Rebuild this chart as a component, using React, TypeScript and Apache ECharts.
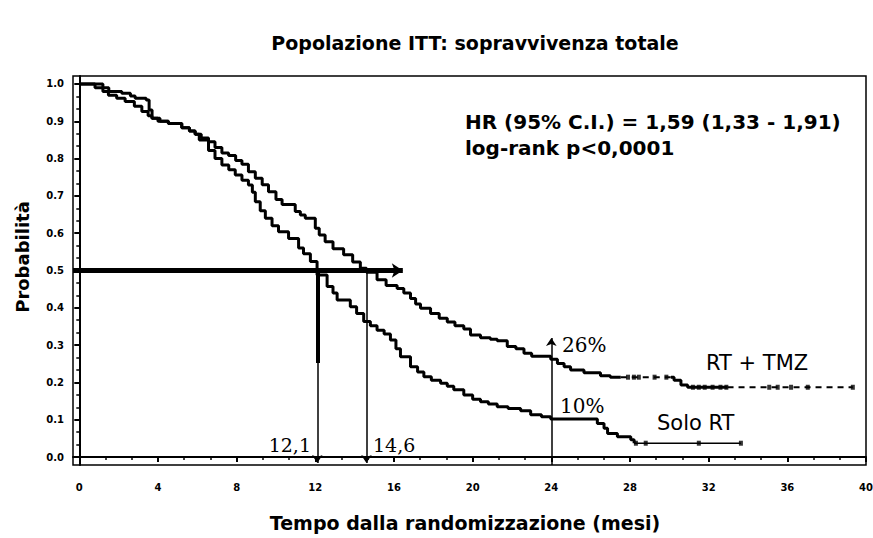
import React, { useEffect, useRef } from "react";
import * as echarts from "echarts";

// ---- axis ticks ----
const xTicks = [0, 4, 8, 12, 16, 20, 24, 28, 32, 36, 40];
const yTicks = [0, 0.1, 0.2, 0.3, 0.4, 0.5, 0.6, 0.7, 0.8, 0.9, 1.0];

// ---- Kaplan-Meier curves [months, probability] ----
const tmzCurve = [
  [0, 1], [0.5, 1], [0.8, 0.99], [1.2, 0.98], [1.48, 0.97], [1.9, 0.962], [2.33, 0.953],
  [2.8, 0.94], [3.18, 0.926], [3.5, 0.915], [3.69, 0.908], [4.1, 0.9], [4.53, 0.894],
  [5.21, 0.883], [5.6, 0.874], [5.89, 0.865], [6.2, 0.855], [6.57, 0.845], [6.9, 0.83],
  [7.25, 0.815], [7.59, 0.808], [7.95, 0.795], [8.27, 0.785], [8.6, 0.765], [8.95, 0.747],
  [9.3, 0.73], [9.62, 0.711], [10.0, 0.69], [10.31, 0.677], [10.98, 0.658], [11.24, 0.649],
  [11.49, 0.64], [12.0, 0.613], [12.2, 0.595], [12.5, 0.577], [12.9, 0.558], [13.44, 0.542],
  [13.9, 0.523], [14.29, 0.506], [14.6, 0.495], [15.14, 0.475], [15.6, 0.46], [16.16, 0.452],
  [16.5, 0.44], [16.84, 0.425], [17.1, 0.41], [17.35, 0.399], [17.86, 0.385], [18.3, 0.372],
  [18.71, 0.362], [19.1, 0.352], [19.55, 0.343], [19.89, 0.327], [20.4, 0.32], [20.9, 0.316],
  [21.25, 0.312], [21.76, 0.296], [22.2, 0.29], [22.61, 0.278], [23.0, 0.27], [23.97, 0.262],
  [24.31, 0.251], [24.65, 0.242], [24.98, 0.233], [25.66, 0.226], [26.5, 0.218], [27.0, 0.214],
  [27.53, 0.214],
];
const tmzPlateau = [[30.08, 0.214], [30.24, 0.206], [30.59, 0.193], [30.93, 0.187], [32.96, 0.187]];
const tmzDashA = [[27.53, 0.214], [30.08, 0.214]];
const tmzDashB = [[32.96, 0.187], [39.33, 0.187]];
const tmzCensored = [
  [27.9, 0.214], [28.2, 0.214], [28.45, 0.214], [29.25, 0.214], [29.85, 0.214],
  [31.2, 0.187], [31.5, 0.187], [31.8, 0.187], [32.2, 0.187], [32.6, 0.187], [32.9, 0.187],
  [35.08, 0.187], [35.51, 0.187], [36.19, 0.187], [37.04, 0.187], [39.33, 0.187],
];

const soloCurve = [
  [0, 1], [0.9, 1], [1.2, 0.99], [1.5, 0.98], [2.16, 0.975], [2.6, 0.968], [2.84, 0.962],
  [3.4, 0.957], [3.55, 0.93], [3.7, 0.908], [4.0, 0.9], [4.53, 0.894], [5.21, 0.883],
  [5.6, 0.874], [5.89, 0.865], [6.1, 0.85], [6.57, 0.822], [6.9, 0.8], [7.25, 0.783],
  [7.6, 0.77], [7.93, 0.756], [8.27, 0.742], [8.6, 0.729], [8.8, 0.71], [8.95, 0.684],
  [9.2, 0.66], [9.46, 0.64], [9.8, 0.62], [10.13, 0.604], [10.64, 0.586], [11.15, 0.56],
  [11.4, 0.545], [11.75, 0.524], [12.09, 0.488], [12.6, 0.457], [12.9, 0.44], [13.11, 0.421],
  [13.78, 0.403], [14.1, 0.385], [14.46, 0.363], [14.8, 0.352], [15.14, 0.34], [15.5, 0.33],
  [15.82, 0.314], [16.1, 0.29], [16.33, 0.269], [16.84, 0.242], [17.2, 0.228], [17.52, 0.215],
  [17.9, 0.206], [18.37, 0.198], [18.71, 0.19], [19.04, 0.18], [19.55, 0.166], [20.0, 0.155],
  [20.4, 0.148], [20.8, 0.142], [21.25, 0.135], [21.8, 0.13], [22.44, 0.124], [22.95, 0.113],
  [23.5, 0.108], [23.97, 0.102], [26.17, 0.102], [26.34, 0.09], [26.68, 0.077], [26.86, 0.063],
  [27.36, 0.054], [28.04, 0.046], [28.21, 0.037],
];
const soloTail = [[28.21, 0.037], [33.64, 0.037]];
const soloCensored = [[28.3, 0.037], [28.8, 0.037], [31.5, 0.037], [33.64, 0.037]];

// ---- medians and 2-year survival ----
const medianProb = 0.5;
const medianSolo = 12.1;
const medianTmz = 14.6;
const twoYears = 24;
const arrowRight = 16.45;

const X_MIN = -0.32;
const X_MAX = 40;
const Y_MIN = -0.0214;
const Y_MAX = 1.0214;

const minorOf = (ticks: number[], n: number) => {
  const out: number[] = [];
  for (let i = 0; i < ticks.length - 1; i++) {
    const step = (ticks[i + 1] - ticks[i]) / n;
    for (let k = 1; k < n; k++) out.push(ticks[i] + step * k);
  }
  return out;
};

const SANS = '"DejaVu Sans", sans-serif';
const SERIF = '"DejaVu Serif", serif';

export default function App() {
  const ref = useRef<HTMLDivElement>(null);
  useEffect(() => {
    if (!ref.current) return;
    const chart = echarts.init(ref.current, null, { renderer: "svg" });

    const stepLine = (data: number[][], width: number, dashed = false) => ({
      type: "line",
      data,
      step: "end",
      symbol: "none",
      silent: true,
      lineStyle: { color: "#000", width, type: dashed ? [6, 5] : "solid" },
      z: 3,
    });
    const censor = (data: number[][]) => ({
      type: "scatter",
      data,
      symbol: "rect",
      symbolSize: [4, 5],
      itemStyle: { color: "#000" },
      silent: true,
      z: 4,
    });
    const arrow = (from: number[], to: number[], width: number, endSymbol = "arrow", size = 8) => [
      { coord: from, symbol: "none", lineStyle: { color: "#000", width, type: "solid" } },
      { coord: to, symbol: endSymbol, symbolSize: size },
    ];

    const option: any = {
      animation: false,
      backgroundColor: "#fff",
      grid: {
        left: 73, right: 7, top: 76, bottom: 73,
        show: true, borderColor: "#000", borderWidth: 1.5,
        outerBoundsMode: "none",
      },
      xAxis: [
        {
          type: "value", min: X_MIN, max: X_MAX, position: "bottom",
          axisLine: { show: true, lineStyle: { color: "#000", width: 2 } },
          axisTick: { show: true, customValues: xTicks, length: 5, lineStyle: { color: "#000", width: 2 } },
          axisLabel: {
            customValues: xTicks, color: "#000", fontSize: 10, fontWeight: "bold",
            fontFamily: SANS, margin: 17,
          },
          splitLine: { show: false },
        },
        {
          type: "value", min: X_MIN, max: X_MAX, position: "bottom", offset: 0,
          axisLine: { show: true, lineStyle: { color: "rgba(0,0,0,0)", width: 0 } },
          axisTick: { show: true, customValues: minorOf(xTicks, 3), length: 3, lineStyle: { color: "#000", width: 1.5 } },
          axisLabel: { show: true, customValues: minorOf(xTicks, 3), formatter: () => "" },
          splitLine: { show: false },
        },
      ],
      yAxis: [
        {
          type: "value", min: Y_MIN, max: Y_MAX, position: "left",
          axisLine: { show: true, lineStyle: { color: "#000", width: 2 } },
          axisTick: { show: true, customValues: yTicks, length: 5, lineStyle: { color: "#000", width: 2 } },
          axisLabel: {
            customValues: yTicks, color: "#000", fontSize: 10, fontWeight: "bold",
            fontFamily: SANS, margin: 9, formatter: (v: number) => v.toFixed(1),
          },
          splitLine: { show: false },
        },
        {
          type: "value", min: Y_MIN, max: Y_MAX, position: "left", offset: 0,
          axisLine: { show: true, lineStyle: { color: "rgba(0,0,0,0)", width: 0 } },
          axisTick: { show: true, customValues: minorOf(yTicks, 3), length: 3, lineStyle: { color: "#000", width: 1.5 } },
          axisLabel: { show: true, customValues: minorOf(yTicks, 3), formatter: () => "" },
          splitLine: { show: false },
        },
      ],
      series: [
        stepLine(tmzCurve, 3),
        stepLine(tmzPlateau, 3),
        stepLine(tmzDashA, 2, true),
        stepLine(tmzDashB, 2, true),
        censor(tmzCensored),
        stepLine(soloCurve, 3),
        stepLine(soloTail, 1.5),
        censor(soloCensored),
        {
          type: "line",
          data: [],
          silent: true,
          z: 5,
          markLine: {
            silent: true,
            animation: false,
            label: { show: false },
            emphasis: { disabled: true },
            data: [
              arrow([X_MIN, medianProb], [arrowRight, medianProb], 5, "arrow", 11),
              arrow([medianSolo, medianProb], [medianSolo, 0.252], 4, "none"),
              arrow([medianSolo, medianProb], [medianSolo, -0.016], 1.5, "arrow", 8),
              arrow([medianTmz, 0.507], [medianTmz, -0.016], 1.5, "arrow", 8),
              arrow([twoYears, Y_MIN], [twoYears, 0.319], 1.5, "arrow", 8),
            ],
          },
        },
      ],
      graphic: [
        {
          type: "text", x: 475, y: 43,
          style: { text: "Popolazione ITT: sopravvivenza totale", font: `bold 19px ${SANS}`, fill: "#000", align: "center", verticalAlign: "middle" },
        },
        {
          type: "text", x: 465, y: 523,
          style: { text: "Tempo dalla randomizzazione (mesi)", font: `bold 19px ${SANS}`, fill: "#000", align: "center", verticalAlign: "middle" },
        },
        {
          type: "text", x: 22, y: 257, rotation: Math.PI / 2,
          style: { text: "Probabilità", font: `bold 18px ${SANS}`, fill: "#000", align: "center", verticalAlign: "middle" },
        },
        {
          type: "text", x: 465, y: 122,
          style: { text: "HR (95% C.I.) = 1,59 (1,33 - 1,91)", font: `bold 20px ${SANS}`, fill: "#000", align: "left", verticalAlign: "middle" },
        },
        {
          type: "text", x: 465, y: 148,
          style: { text: "log-rank p<0,0001", font: `bold 20px ${SANS}`, fill: "#000", align: "left", verticalAlign: "middle" },
        },
        {
          type: "text", x: 706, y: 363,
          style: { text: "RT + TMZ", font: `21px ${SANS}`, fill: "#000", align: "left", verticalAlign: "middle" },
        },
        {
          type: "text", x: 657, y: 423,
          style: { text: "Solo RT", font: `21px ${SANS}`, fill: "#000", align: "left", verticalAlign: "middle" },
        },
        {
          type: "text", x: 562, y: 345,
          style: { text: "26%", font: `20px ${SERIF}`, fill: "#000", align: "left", verticalAlign: "middle" },
        },
        {
          type: "text", x: 560, y: 406,
          style: { text: "10%", font: `20px ${SERIF}`, fill: "#000", align: "left", verticalAlign: "middle" },
        },
        {
          type: "text", x: 311, y: 445,
          style: { text: "12,1", font: `19px ${SERIF}`, fill: "#000", align: "right", verticalAlign: "middle" },
        },
        {
          type: "text", x: 373, y: 445,
          style: { text: "14,6", font: `19px ${SERIF}`, fill: "#000", align: "left", verticalAlign: "middle" },
        },
      ],
    };
    chart.setOption(option);
    return () => chart.dispose();
  }, []);

  return (
    <div
      ref={ref}
      style={{ position: "fixed", left: 0, top: 0, width: 873, height: 538, background: "#fff" }}
    />
  );
}
